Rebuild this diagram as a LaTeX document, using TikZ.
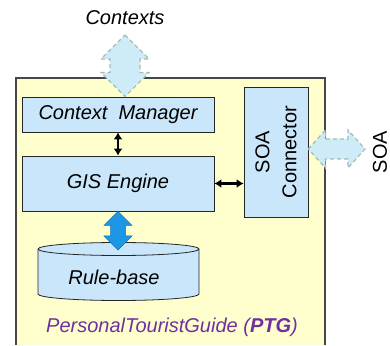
\documentclass[tikz,border=0pt]{standalone}
\usepackage{fontspec}
\setmainfont{Liberation Sans}
\usetikzlibrary{arrows.meta,calc}
\definecolor{boxblue}{RGB}{202,230,250}
\definecolor{paleyellow}{RGB}{255,255,206}
\definecolor{ghostfill}{RGB}{206,236,248}
\definecolor{ghostline}{RGB}{165,188,178}
\definecolor{solidblue}{RGB}{30,150,230}
\definecolor{ptgpurple}{RGB}{112,48,160}
\definecolor{framegrey}{RGB}{70,70,70}
\begin{document}
\begin{tikzpicture}[x=1pt,y=1pt,
  txt/.style={font=\fontsize{20}{24}\selectfont\itshape},
  uptxt/.style={font=\fontsize{20}{27}\selectfont},
  box/.style={draw=black!85, fill=boxblue, line width=0.8pt, inner sep=0pt, txt},
  fatv/.style n args={3}{to path={let \p1=(\tikztostart), \p2=(\tikztotarget) in
     (\x1,\y1) -- (\x1+#1,\y1-#3) -- (\x1+#2,\y1-#3) -- (\x1+#2,\y2+#3) -- (\x1+#1,\y2+#3)
     -- (\x1,\y2) -- (\x1-#1,\y2+#3) -- (\x1-#2,\y2+#3) -- (\x1-#2,\y1-#3) -- (\x1-#1,\y1-#3) -- cycle}},
  fath/.style n args={3}{to path={let \p1=(\tikztostart), \p2=(\tikztotarget) in
     (\x1,\y1) -- (\x1+#3,\y1+#1) -- (\x1+#3,\y1+#2) -- (\x2-#3,\y1+#2) -- (\x2-#3,\y1+#1)
     -- (\x2,\y1) -- (\x2-#3,\y1-#1) -- (\x2-#3,\y1-#2) -- (\x1+#3,\y1-#2) -- (\x1+#3,\y1-#1) -- cycle}},
  ghost/.style={fill=ghostfill, draw=ghostline, dash pattern=on 4pt off 3pt, line width=1.2pt},
  solidarrow/.style={fill=solidblue, draw=solidblue!75!black, line width=0.5pt},
  smallarrow/.style={line width=2.2pt, {Latex[length=7pt,width=9pt]}-{Latex[length=7pt,width=9pt]}}
]
\useasboundingbox (0,0) rectangle (390,345);
% outer frame
\fill[paleyellow] (16,0) rectangle (325,267);
\draw[framegrey, line width=1.2pt] (16,0) -- (16,267) -- (325,267) -- (325,0);

% nodes
\node[txt] (ctx) at (125,327) {Contexts};
\node[box, minimum width=192pt, minimum height=35pt] (cm) at (118,230.5) {Context\ \ Manager};
\node[box, minimum width=192pt, minimum height=55pt] (gis) at (118,161.5) {GIS Engine};
\node[box, minimum width=64pt, minimum height=130pt] (soa) at (276,193) {};
\node[uptxt, rotate=90, align=center] (soatxt) at (soa.center) {SOA\\Connector};
\node[uptxt, rotate=90] (soalab) at (380,193) {SOA};

% rule base cylinder
\filldraw[fill=boxblue, draw=black!85, line width=0.8pt]
  (38,96) -- (38,51) arc[start angle=180, end angle=360, x radius=80.5pt, y radius=6.5pt]
  -- (199,96) arc[start angle=0, end angle=180, x radius=80.5pt, y radius=6.5pt] -- cycle;
\draw[black!85, line width=0.8pt] (38,96) arc[start angle=180, end angle=360, x radius=80.5pt, y radius=6.5pt];
\node[txt] (rb) at (114,68) {Rule-base};
\coordinate (rbtop) at (118,95);

\node[txt, text=ptgpurple] (ptg) at (172,18) {PersonalTouristGuide (\textbf{PTG})};

% connectors
\coordinate (ctxtip) at (125,310);
\coordinate (soatip) at (365,196);
\draw[ghost] (ctxtip) to[fatv={24pt}{15pt}{24pt}] ($(cm.north)+(7,0)$);
\draw[ghost] ($(soa.east)+(0,3)$) to[fath={19pt}{10pt}{17pt}] (soatip);
\draw[solidarrow] (gis.south) to[fatv={14pt}{7.5pt}{14pt}] (rbtop);
\draw[smallarrow] (cm.south) -- (gis.north);
\draw[smallarrow] (gis.east) -- (gis.east -| soa.west);
\end{tikzpicture}
\end{document}
